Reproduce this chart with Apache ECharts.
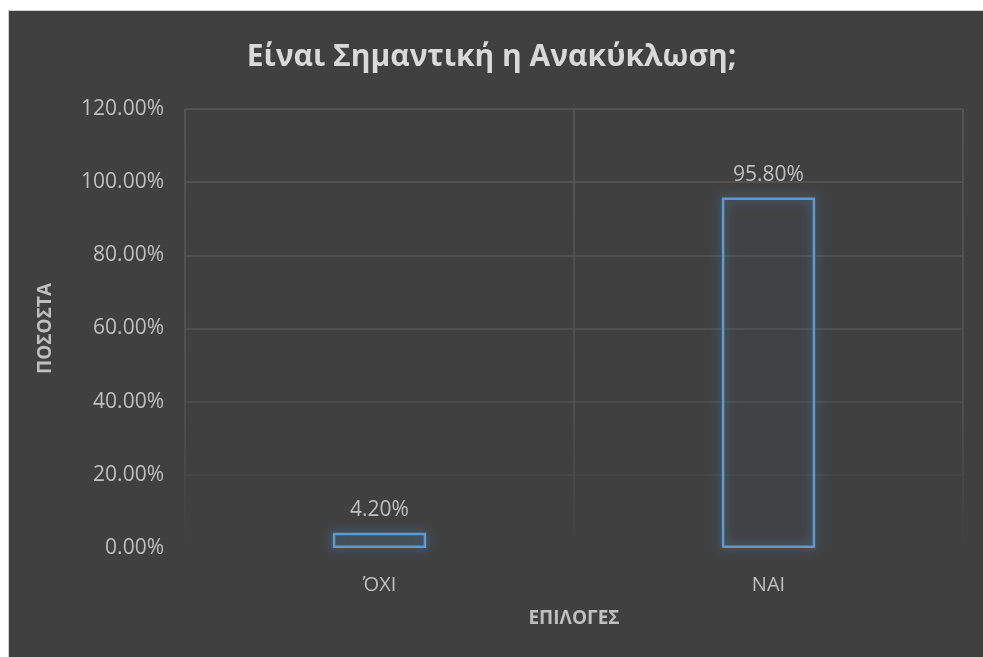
<!DOCTYPE html>
<html>
<head>
<meta charset="utf-8">
<script src="https://cdn.jsdelivr.net/npm/echarts@6/dist/echarts.min.js"></script>
<style>
  html, body { margin: 0; padding: 0; background: #ffffff; overflow: hidden; }
  #frame {
    position: absolute; left: 8px; top: 10px;
    width: 980px; height: 652px;
    background: #404040;
    border-left: 1px solid #d0d0d0;
    border-top: 1px solid #d0d0d0;
  }
  #chart { position: absolute; left: 0; top: 0; width: 983px; height: 657px; }
</style>
</head>
<body>
<div id="frame"></div>
<div id="chart"></div>
<script>
const categories = ['ΌΧΙ', 'ΝΑΙ'];
const shares = [4.2, 95.8];
const yTicks = { min: 0, max: 120, interval: 20 };

const font = '"Open Sans", "Noto Sans", sans-serif';
const chart = echarts.init(document.getElementById('chart'), null, { renderer: 'canvas' });

// Gridlines fade out toward the baseline
const hGridColors = ['#404040', '#4a4a4a', '#505050', '#545454', '#565656', '#585858', '#595959'];
const vGridColor = new echarts.graphic.LinearGradient(0, 0, 0, 1, [
  { offset: 0, color: '#5a5a5a' },
  { offset: 0.7, color: '#525252' },
  { offset: 1, color: '#404040' }
]);

chart.setOption({
  backgroundColor: 'transparent',
  animation: false,
  title: {
    text: 'Είναι Σημαντική η Ανακύκλωση;',
    left: 'center',
    top: 37,
    textStyle: { color: '#d9d9d9', fontSize: 30, fontWeight: 'bold', fontFamily: font }
  },
  grid: { left: 185, right: 20, top: 109, bottom: 109, containLabel: false },
  xAxis: {
    type: 'category',
    data: categories,
    boundaryGap: true,
    name: 'ΕΠΙΛΟΓΕΣ',
    nameLocation: 'middle',
    nameGap: 61,
    nameTextStyle: { color: '#bfbfbf', fontSize: 19, fontWeight: 'bold', fontFamily: font },
    axisLine: { show: false },
    axisTick: { show: false },
    axisLabel: { color: '#bfbfbf', fontSize: 20, fontFamily: font, margin: 27 },
    splitLine: { show: true, lineStyle: { color: vGridColor, width: 1.5 } }
  },
  yAxis: {
    type: 'value',
    min: yTicks.min,
    max: yTicks.max,
    interval: yTicks.interval,
    name: 'ΠΟΣΟΣΤΑ',
    nameLocation: 'middle',
    nameGap: 130,
    nameRotate: 90,
    nameTextStyle: { color: '#bfbfbf', fontSize: 19, fontWeight: 'bold', fontFamily: font },
    axisLine: { show: false },
    axisTick: { show: false },
    axisLabel: {
      color: '#bfbfbf', fontSize: 21, fontFamily: font, margin: 21,
      formatter: v => v.toFixed(2) + '%'
    },
    splitLine: { show: true, lineStyle: { color: hGridColors, width: 1.5 } }
  },
  series: [{
    type: 'bar',
    data: shares,
    barWidth: '24%',
    itemStyle: {
      color: 'rgba(91,155,213,0.02)',
      borderColor: '#5b9bd5',
      borderWidth: 2.5,
      shadowBlur: 12,
      shadowColor: 'rgba(91,155,213,0.7)'
    },
    label: {
      show: true,
      position: 'top',
      distance: 12,
      color: '#bfbfbf',
      fontSize: 21,
      fontFamily: font,
      formatter: p => p.value.toFixed(2) + '%'
    }
  }]
});
</script>
</body>
</html>
